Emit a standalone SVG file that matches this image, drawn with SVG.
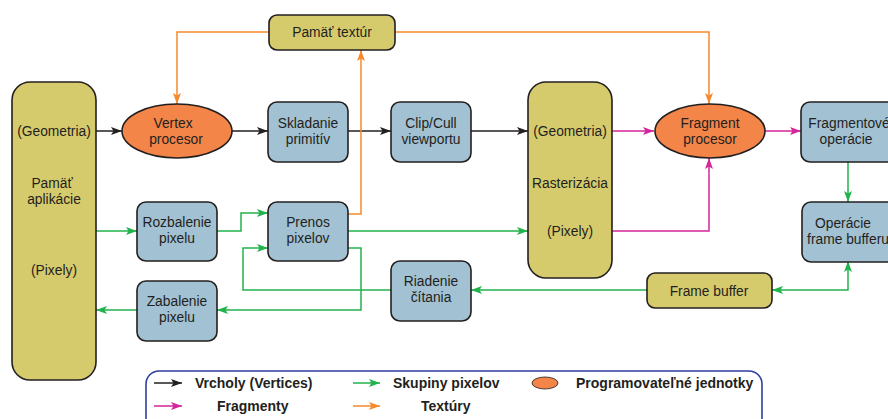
<svg xmlns="http://www.w3.org/2000/svg" width="888" height="419" viewBox="0 0 888 419">
<defs>
<style>
.t{font-family:"Liberation Sans",Arial,sans-serif;font-size:13.8px;fill:#231f20;text-anchor:middle}
.b{font-family:"Liberation Sans",Arial,sans-serif;font-size:14px;font-weight:bold;fill:#231f20}
.y{fill:#d6cb6c;stroke:#231f20;stroke-width:1.6}
.u{fill:#a2c1d2;stroke:#231f20;stroke-width:1.6}
.o{fill:#f38549;stroke:#231f20;stroke-width:1.6}
.k{fill:none;stroke:#231f20;stroke-width:1.5}
.m{fill:none;stroke:#d4259a;stroke-width:1.5}
.g{fill:none;stroke:#22b24c;stroke-width:1.5}
.r{fill:none;stroke:#f7892c;stroke-width:1.5}
</style>
<marker id="ak" viewBox="0 0 11 8" refX="11" refY="4" markerWidth="11" markerHeight="8" markerUnits="userSpaceOnUse" orient="auto"><path d="M0,0 L11,4 L0,8 L2.5,4 z" fill="#231f20"/></marker>
<marker id="am" viewBox="0 0 11 8" refX="11" refY="4" markerWidth="11" markerHeight="8" markerUnits="userSpaceOnUse" orient="auto"><path d="M0,0 L11,4 L0,8 L2.5,4 z" fill="#d4259a"/></marker>
<marker id="ag" viewBox="0 0 11 8" refX="11" refY="4" markerWidth="11" markerHeight="8" markerUnits="userSpaceOnUse" orient="auto"><path d="M0,0 L11,4 L0,8 L2.5,4 z" fill="#22b24c"/></marker>
<marker id="ags" viewBox="0 0 11 8" refX="11" refY="4" markerWidth="11" markerHeight="8" markerUnits="userSpaceOnUse" orient="auto-start-reverse"><path d="M0,0 L11,4 L0,8 L2.5,4 z" fill="#22b24c"/></marker>
<marker id="ar" viewBox="0 0 11 8" refX="11" refY="4" markerWidth="11" markerHeight="8" markerUnits="userSpaceOnUse" orient="auto"><path d="M0,0 L11,4 L0,8 L2.5,4 z" fill="#f7892c"/></marker>
</defs>
<rect width="888" height="419" fill="#fff"/>

<g id="connectors">
<!-- black -->
<path class="k" d="M96,131 H122" marker-end="url(#ak)"/>
<path class="k" d="M232,131 H268" marker-end="url(#ak)"/>
<path class="k" d="M348,131 H391" marker-end="url(#ak)"/>
<path class="k" d="M471,131 H528" marker-end="url(#ak)"/>
<!-- magenta -->
<path class="m" d="M612,131 H654" marker-end="url(#am)"/>
<path class="m" d="M765,131 H801" marker-end="url(#am)"/>
<path class="m" d="M612,231 H709 V158" marker-end="url(#am)"/>
<!-- orange -->
<path class="r" d="M269,32 H177 V104" marker-end="url(#ar)"/>
<path class="r" d="M395,32 H709 V104" marker-end="url(#ar)"/>
<path class="r" d="M348,214 H361 V50" marker-end="url(#ar)"/>
<!-- green -->
<path class="g" d="M96,231 H137" marker-end="url(#ag)"/>
<path class="g" d="M217,231 H241 V213 H268" marker-end="url(#ag)"/>
<path class="g" d="M348,231 H528" marker-end="url(#ag)"/>
<path class="g" d="M391,290 H243 V248 H268" marker-end="url(#ag)"/>
<path class="g" d="M348,248 H361 V310 H217" marker-end="url(#ag)"/>
<path class="g" d="M137,310 H96" marker-end="url(#ag)"/>
<path class="g" d="M647,290 H471" marker-end="url(#ag)"/>
<path class="g" d="M848,162 V202" marker-end="url(#ag)"/>
<path class="g" d="M772,290 H848 V261" marker-start="url(#ags)" marker-end="url(#ag)"/>
</g>

<g id="app">
<rect class="y" x="12" y="82" width="84" height="298" rx="18"/>
<text class="t" x="54" y="136">(Geometria)</text>
<text class="t" x="52" y="188">Pamäť</text>
<text class="t" x="54" y="204">aplikácie</text>
<text class="t" x="54" y="275">(Pixely)</text>
</g>
<g id="texmem">
<rect class="y" x="269" y="15" width="126" height="35" rx="8"/>
<text class="t" x="332" y="37">Pamäť textúr</text>
</g>
<g id="vertex">
<ellipse class="o" cx="177" cy="131" rx="55" ry="27"/>
<text class="t" x="173" y="128">Vertex</text>
<text class="t" x="176" y="144">procesor</text>
</g>
<g id="skladanie">
<rect class="u" x="268" y="102" width="80" height="60" rx="9"/>
<text class="t" x="308" y="128">Skladanie</text>
<text class="t" x="308" y="144">primitív</text>
</g>
<g id="clip">
<rect class="u" x="391" y="102" width="80" height="60" rx="9"/>
<text class="t" x="431" y="128">Clip/Cull</text>
<text class="t" x="431" y="144">viewportu</text>
</g>
<g id="raster">
<rect class="y" x="528" y="82" width="84" height="196" rx="18"/>
<text class="t" x="570" y="136">(Geometria)</text>
<text class="t" x="570" y="188">Rasterizácia</text>
<text class="t" x="570" y="236">(Pixely)</text>
</g>
<g id="fragment">
<ellipse class="o" cx="710" cy="131" rx="55" ry="27"/>
<text class="t" x="710" y="128">Fragment</text>
<text class="t" x="710" y="144">procesor</text>
</g>
<g id="fragops">
<rect class="u" x="801" y="102" width="96" height="60" rx="9"/>
<text class="t" x="849" y="128">Fragmentové</text>
<text class="t" x="846" y="144">operácie</text>
</g>
<g id="fbops">
<rect class="u" x="802" y="202" width="96" height="60" rx="9"/>
<text class="t" x="843" y="228">Operácie</text>
<text class="t" x="848" y="244">frame bufferu</text>
</g>
<g id="rozbalenie">
<rect class="u" x="137" y="202" width="80" height="59" rx="9"/>
<text class="t" x="177" y="227">Rozbalenie</text>
<text class="t" x="177" y="243">pixelu</text>
</g>
<g id="prenos">
<rect class="u" x="268" y="202" width="80" height="59" rx="9"/>
<text class="t" x="308" y="227">Prenos</text>
<text class="t" x="308" y="243">pixelov</text>
</g>
<g id="zabalenie">
<rect class="u" x="137" y="281" width="80" height="60" rx="9"/>
<text class="t" x="177" y="306">Zabalenie</text>
<text class="t" x="177" y="322">pixelu</text>
</g>
<g id="riadenie">
<rect class="u" x="391" y="261" width="80" height="60" rx="9"/>
<text class="t" x="431" y="286">Riadenie</text>
<text class="t" x="431" y="302">čítania</text>
</g>
<g id="framebuffer">
<rect class="y" x="647" y="273" width="125" height="35" rx="8"/>
<text class="t" x="709" y="296">Frame buffer</text>
</g>

<g id="legend">
<rect x="146" y="371" width="616" height="60" rx="13" fill="none" stroke="#2e3f9e" stroke-width="1.6"/>
<path class="k" d="M154,383 H182" marker-end="url(#ak)"/>
<text class="b" x="195" y="388">Vrcholy (Vertices)</text>
<path class="g" d="M353,383 H380" marker-end="url(#ag)"/>
<text class="b" x="393" y="388">Skupiny pixelov</text>
<ellipse cx="545" cy="383" rx="13" ry="6" fill="#f38549" stroke="#231f20" stroke-width="0.8"/>
<text class="b" x="576" y="388">Programovateľné jednotky</text>
<path class="m" d="M154,406 H182" marker-end="url(#am)"/>
<text class="b" x="217" y="411">Fragmenty</text>
<path class="r" d="M353,406 H380" marker-end="url(#ar)"/>
<text class="b" x="421" y="411">Textúry</text>
</g>
</svg>
